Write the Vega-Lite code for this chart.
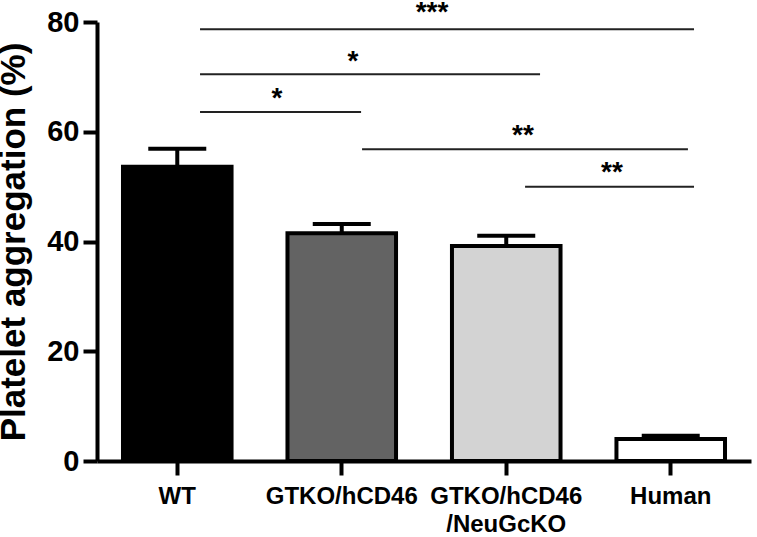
{
  "$schema": "https://vega.github.io/schema/vega-lite/v6.json",
  "width": 654,
  "height": 439,
  "autosize": "none",
  "padding": {"left": 97, "top": 22, "right": 6, "bottom": 76},
  "background": "white",
  "config": {
    "view": {"stroke": null},
    "font": "Liberation Sans",
    "axis": {"grid": false, "domainColor": "black", "domainWidth": 4, "tickColor": "black", "tickWidth": 4, "tickSize": 14, "labelFont": "Liberation Sans", "labelFontWeight": "bold", "labelColor": "black", "titleFont": "Liberation Sans", "titleFontWeight": "bold", "titleColor": "black"}
  },
  "encoding": {
    "y": {"type": "quantitative", "scale": {"domain": [0, 80], "nice": false},
      "title": "Platelet aggregation (%)",
      "axis": {"values": [0, 20, 40, 60, 80], "labelFontSize": 29, "labelPadding": 4, "titleFontSize": 35, "titlePadding": 15}}
  },
  "layer": [
    {
      "data": {"values": [
        {"group": "WT", "value": 53.6, "upper": 56.9},
        {"group": "GTKO/hCD46", "value": 41.5, "upper": 43.2},
        {"group": "GTKO/hCD46/NeuGcKO", "value": 39.2, "upper": 41.05},
        {"group": "Human", "value": 4.0, "upper": 4.6}
      ]},
      "encoding": {
        "x": {"field": "group", "type": "nominal", "sort": null,
          "scale": {"paddingInner": 0.34, "paddingOuter": 0.158},
          "axis": {"title": null, "labelAngle": 0, "labelFontSize": 24, "labelPadding": 9, "labelLineHeight": 28,
            "labelExpr": "datum.label == 'GTKO/hCD46/NeuGcKO' ? ['GTKO/hCD46', '/NeuGcKO'] : datum.label"}}
      },
      "layer": [
        {
          "mark": {"type": "rule", "color": "black", "strokeWidth": 4},
          "encoding": {
            "y": {"field": "value", "type": "quantitative", "scale": {"domain": [0, 80], "nice": false}, "title": "Platelet aggregation (%)",
              "axis": {"values": [0, 20, 40, 60, 80], "labelFontSize": 29, "labelPadding": 4, "titleFontSize": 35, "titlePadding": 15}},
            "y2": {"field": "upper"}
          }
        },
        {
          "mark": {"type": "tick", "color": "black", "thickness": 4, "size": 58, "opacity": 1},
          "encoding": {"y": {"field": "upper", "type": "quantitative", "title": "Platelet aggregation (%)"}}
        },
        {
          "mark": {"type": "bar", "stroke": "black", "strokeWidth": 4, "opacity": 1},
          "encoding": {
            "y": {"field": "value", "type": "quantitative", "title": "Platelet aggregation (%)"},
            "fill": {"field": "group", "type": "nominal", "sort": null, "legend": null,
              "scale": {"domain": ["WT", "GTKO/hCD46", "GTKO/hCD46/NeuGcKO", "Human"], "range": ["#000000", "#636363", "#d3d3d3", "#ffffff"]}}
          }
        }
      ]
    },
    {
      "data": {"values": [
        {"x1": 0.14, "x2": 3.143, "yl": 78.7, "xt": 1.55, "yt": 80.1, "label": "***"},
        {"x1": 0.14, "x2": 2.207, "yl": 70.5, "xt": 1.07, "yt": 71.25, "label": "*"},
        {"x1": 0.14, "x2": 1.119, "yl": 63.6, "xt": 0.608, "yt": 64.5, "label": "*"},
        {"x1": 1.125, "x2": 3.106, "yl": 56.8, "xt": 2.103, "yt": 57.7, "label": "**"},
        {"x1": 2.116, "x2": 3.143, "yl": 50.0, "xt": 2.644, "yt": 50.95, "label": "**"}
      ]},
      "layer": [
        {
          "mark": {"type": "rule", "color": "#222222", "strokeWidth": 2},
          "encoding": {
            "x": {"field": "x1", "type": "quantitative", "scale": {"domain": [-0.4863, 3.4894], "nice": false, "zero": false}, "axis": null},
            "x2": {"field": "x2"},
            "y": {"field": "yl", "type": "quantitative", "title": "Platelet aggregation (%)"}
          }
        },
        {
          "mark": {"type": "text", "fontSize": 28, "fontWeight": "bold", "color": "black", "baseline": "alphabetic", "align": "center"},
          "encoding": {
            "x": {"field": "xt", "type": "quantitative", "axis": null},
            "y": {"field": "yt", "type": "quantitative", "title": "Platelet aggregation (%)"},
            "text": {"field": "label"}
          }
        }
      ]
    }
  ],
  "resolve": {"scale": {"x": "independent"}}
}
